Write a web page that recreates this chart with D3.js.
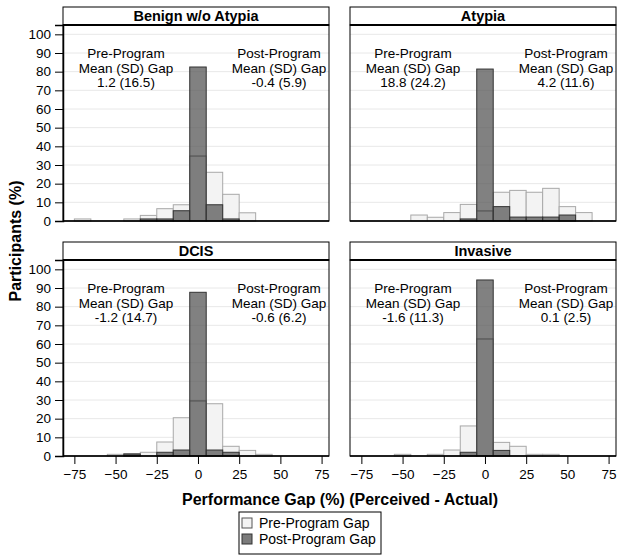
<!DOCTYPE html>
<html><head><meta charset="utf-8">
<script src="https://d3js.org/d3.v7.min.js"></script>
<style>body{margin:0;background:#fff}svg{display:block;font-family:"Liberation Sans",Arial,sans-serif}</style>
</head><body><svg id="c" width="624" height="555"></svg>
<script>
const binCenters = [-70,-60,-50,-40,-30,-20,-10,0,10,20,30,40,50,60,70];
const panelTitles = ["Benign w/o Atypia","Atypia","DCIS","Invasive"];
const benignPre  = [1.1,0,0,1.1,3.0,6.6,8.7,34.8,26.1,14.3,4.4,0,0,0,0];
const benignPost = [0,0,0,0,1.1,1.1,5.5,82.5,8.7,1.1,0,0,0,0,0];
const atypiaPre  = [0,0,0,3.2,2.0,4.5,8.9,5.4,15.4,16.4,15.4,17.5,7.7,4.5,0];
const atypiaPost = [0,0,0,0,0,0,1.1,81.4,7.7,2.1,2.1,2.1,3.2,0,0];
const dcisPre    = [0,0,0.9,1.0,2.0,7.5,20.5,29.5,28.0,5.2,3.0,0.9,0,0,0];
const dcisPost   = [0,0,0,1.1,0,2.0,3.2,87.7,3.2,2.0,0,0,0,0,0];
const invPre     = [0,0,0.9,0,0.9,3.2,16.1,62.7,7.3,5.2,0.9,0.9,0,0,0];
const invPost    = [0,0,0,0,0,0,2.0,94.3,3.0,0,0,0,0,0,0];
const preStats  = ["1.2 (16.5)","18.8 (24.2)","-1.2 (14.7)","-1.6 (11.3)"];
const postStats = ["-0.4 (5.9)","4.2 (11.6)","-0.6 (6.2)","0.1 (2.5)"];
const xTicks = [-75,-50,-25,0,25,50,75];
const yTicks = [0,10,20,30,40,50,60,70,80,90,100];
const seriesNames = ["Pre-Program Gap","Post-Program Gap"];

const preSeries = [benignPre, atypiaPre, dcisPre, invPre];
const postSeries = [benignPost, atypiaPost, dcisPost, invPost];

const svg = d3.select("#c");
const panelW = 266, plotH = 196, headH = 18;
const lefts = [63, 350], tops = [7, 242];
const binW = 10;

const x = d3.scaleLinear().domain([-81.9, 79.5]).range([0, panelW]);
const y = d3.scaleLinear().domain([0, 105]).range([plotH, 0]);

const PRE_FILL = "#f3f3f3", PRE_STROKE = "#a8a8a8";
const POST_FILL = "#505050", POST_OP = 0.72, POST_STROKE = "#333";

panelTitles.forEach((title, i) => {
  const col = i % 2, row = Math.floor(i / 2);
  const g = svg.append("g").attr("transform", `translate(${lefts[col]},${tops[row]})`);
  g.append("rect").attr("x", 0).attr("y", 0).attr("width", panelW).attr("height", headH)
    .attr("fill", "#fff").attr("stroke", "#000").attr("stroke-width", 1);
  g.append("text").attr("x", panelW / 2).attr("y", headH / 2 + 5).attr("text-anchor", "middle")
    .attr("font-weight", "bold").attr("font-size", 14.5).text(title);
  const p = g.append("g").attr("transform", `translate(0,${headH})`);
  p.selectAll("line.grid").data(yTicks.filter(t => t > 0)).enter().append("line")
    .attr("x1", 0).attr("x2", panelW).attr("y1", d => y(d)).attr("y2", d => y(d))
    .attr("stroke", "#e8e8e8").attr("stroke-width", 1);
  const pre = preSeries[i].map((v, k) => ({c: binCenters[k], v})).filter(d => d.v > 0);
  p.selectAll("rect.pre").data(pre).enter().append("rect")
    .attr("x", d => x(d.c - binW / 2)).attr("width", d => x(d.c + binW / 2) - x(d.c - binW / 2))
    .attr("y", d => y(d.v)).attr("height", d => y(0) - y(d.v))
    .attr("fill", PRE_FILL).attr("stroke", PRE_STROKE).attr("stroke-width", 1);
  const post = postSeries[i].map((v, k) => ({c: binCenters[k], v})).filter(d => d.v > 0);
  p.selectAll("rect.post").data(post).enter().append("rect")
    .attr("x", d => x(d.c - binW / 2)).attr("width", d => x(d.c + binW / 2) - x(d.c - binW / 2))
    .attr("y", d => y(d.v)).attr("height", d => y(0) - y(d.v))
    .attr("fill", POST_FILL).attr("fill-opacity", POST_OP).attr("stroke", POST_STROKE).attr("stroke-width", 1);
  p.selectAll("line.ov").data(pre.filter(d => postSeries[i][binCenters.indexOf(d.c)] > d.v)).enter().append("line")
    .attr("x1", d => x(d.c - binW / 2)).attr("x2", d => x(d.c + binW / 2))
    .attr("y1", d => y(d.v)).attr("y2", d => y(d.v)).attr("stroke", "#444").attr("stroke-opacity", 0.6);
  p.append("rect").attr("x", 0).attr("y", 0).attr("width", panelW).attr("height", plotH)
    .attr("fill", "none").attr("stroke", "#000").attr("stroke-width", 1);
  p.append("line").attr("x1", 0).attr("x2", panelW).attr("y1", 0).attr("y2", 0)
    .attr("stroke", "#000").attr("stroke-width", 2);
  p.append("line").attr("x1", 0).attr("x2", panelW).attr("y1", plotH).attr("y2", plotH)
    .attr("stroke", "#000").attr("stroke-width", 1.5);
  if (col === 0) {
    const ya = p.append("g").call(d3.axisLeft(y).tickValues(yTicks).tickSize(8).tickPadding(4));
    ya.select(".domain").attr("stroke", "#000").attr("stroke-width", 1.5);
    ya.selectAll("text").attr("font-size", 13.5).attr("font-family", "Liberation Sans, Arial, sans-serif").attr("fill", "#000");
  }
  if (row === 1) {
    const xa = p.append("g").attr("transform", `translate(0,${plotH})`)
      .call(d3.axisBottom(x).tickValues(xTicks).tickSize(8).tickPadding(5));
    xa.select(".domain").remove();
    xa.selectAll("text").attr("font-size", 13.5).attr("font-family", "Liberation Sans, Arial, sans-serif").attr("fill", "#000");
  }
  const ann = (cx, lines) => {
    const t = g.append("text").attr("text-anchor", "middle").attr("font-size", 13.5);
    lines.forEach((s, k) => t.append("tspan").attr("x", cx).attr("y", 51 + k * 14.5).text(s));
  };
  ann(63, ["Pre-Program", "Mean (SD) Gap", preStats[i]]);
  ann(216, ["Post-Program", "Mean (SD) Gap", postStats[i]]);
});

svg.append("text").attr("transform", "translate(21,241) rotate(-90)").attr("text-anchor", "middle")
  .attr("font-weight", "bold").attr("font-size", 16).text("Participants (%)");
svg.append("text").attr("x", 340).attr("y", 505).attr("text-anchor", "middle")
  .attr("font-weight", "bold").attr("font-size", 16).text("Performance Gap (%) (Perceived - Actual)");

const lg = svg.append("g").attr("transform", "translate(239,512)");
lg.append("rect").attr("width", 142).attr("height", 42).attr("fill", "#fff").attr("stroke", "#000");
seriesNames.forEach((nm, k) => {
  const yy = 11 + k * 16;
  lg.append("rect").attr("x", 3).attr("y", yy - 5).attr("width", 10).attr("height", 10)
    .attr("fill", k === 0 ? PRE_FILL : "#7b7b7b").attr("stroke", k === 0 ? "#555" : "#333");
  lg.append("text").attr("x", 20).attr("y", yy + 5).attr("font-size", 14).text(nm);
});
</script></body></html>
